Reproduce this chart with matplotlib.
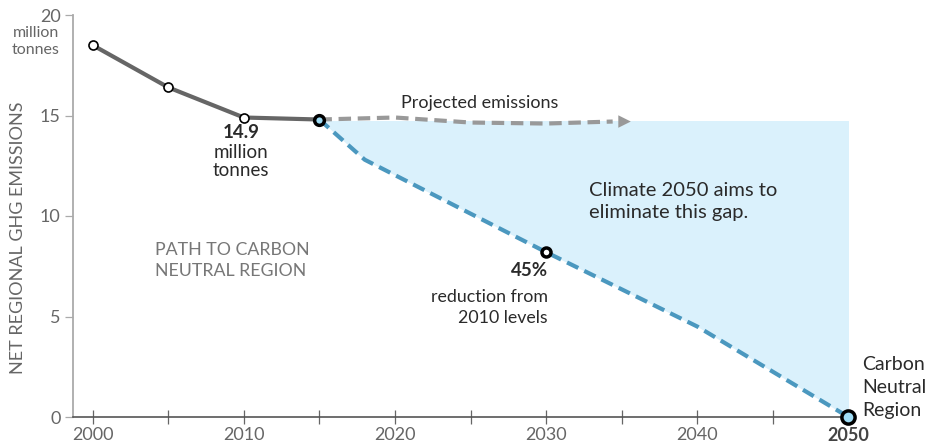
import matplotlib
matplotlib.use("Agg")
import matplotlib.pyplot as plt

plt.rcParams['font.family'] = ['Lato', 'DejaVu Sans']

# Historical emissions (million tonnes)
hist_years = [2000, 2005, 2010, 2015]
hist_vals = [18.5, 16.4, 14.9, 14.8]

# Business-as-usual projection
proj_years = [2015, 2020, 2025, 2030, 2035]
proj_vals = [14.8, 14.9, 14.65, 14.6, 14.7]

# Path to carbon neutral region
path_years = [2015, 2018, 2030, 2040, 2050]
path_vals = [14.8, 12.8, 8.2, 4.5, 0.0]

# Gap between current level and the path
gap_top = 14.75

x_ticks = [2000, 2005, 2010, 2015, 2020, 2025, 2030, 2035, 2040, 2045, 2050]
x_labels = ['2000', '', '2010', '', '2020', '', '2030', '', '2040', '', '2050']
y_ticks = [0, 5, 10, 15, 20]

fig = plt.figure(figsize=(9.3, 4.47), dpi=100)
ax = fig.add_axes([73/930, 1-417/447, (850-73)/930, (417-15)/447])
ax.set_xlim(1998.7, 2050.1)
ax.set_ylim(0, 20)

blue_fill = '#daf1fc'
blue_line = '#4b98bf'
dark = '#2a2a2a'
grey_text = '#666666'

ax.fill_between(path_years, path_vals, gap_top, color=blue_fill, lw=0, zorder=1)

ax.plot(path_years, path_vals, color=blue_line, lw=3, ls=(0, (3, 1.6)), zorder=2)
ax.plot(proj_years[:-1] + [proj_years[-1] - 0.6], proj_vals[:-1] + [proj_vals[-1]],
        color='#999999', lw=3, ls=(0, (3, 1.6)), zorder=2)
ax.annotate('', xy=(proj_years[-1] + 0.6, proj_vals[-1]),
            xytext=(proj_years[-1] - 0.5, proj_vals[-1]),
            arrowprops=dict(arrowstyle='-|>,head_length=0.9,head_width=0.45',
                            color='#999999', lw=0, shrinkA=0, shrinkB=0), zorder=3)

ax.plot(hist_years, hist_vals, color='#666666', lw=3, zorder=3)
ax.plot(hist_years[:-1], hist_vals[:-1], 'o', ms=6.5, mfc='white', mec='black',
        mew=1.2, zorder=4)
ax.plot([hist_years[-1]], [hist_vals[-1]], 'o', ms=7, mfc='#9fdcf5', mec='black',
        mew=2.5, zorder=5)
ax.plot([path_years[2]], [path_vals[2]], 'o', ms=6.5, mfc='white', mec='black',
        mew=2.5, zorder=5)
ax.plot([path_years[-1]], [path_vals[-1]], 'o', ms=9.5, mfc='#9fdcf5', mec='black',
        mew=2.5, zorder=6, clip_on=False)

# Axes styling
for s in ['top', 'right']:
    ax.spines[s].set_visible(False)
ax.spines['left'].set_color('#aaaaaa')
ax.spines['left'].set_linewidth(1.3)
ax.spines['bottom'].set_color('#555555')
ax.spines['bottom'].set_linewidth(1.2)

ax.set_xticks(x_ticks)
ax.set_xticklabels(x_labels)
ax.tick_params(axis='x', direction='inout', length=10, width=0.9, color='#666666',
               labelsize=13, labelcolor=grey_text, pad=2)
ax.get_xticklabels()[-1].set_fontweight('bold')
ax.get_xticklabels()[-1].set_color('#444444')
ax.set_yticks(y_ticks)
ax.tick_params(axis='y', direction='out', length=6, width=0.9, color='#aaaaaa',
               labelsize=13, labelcolor=grey_text, pad=3)

ax.set_ylabel('NET REGIONAL GHG EMISSIONS', fontsize=13, color=grey_text)
ax.yaxis.set_label_coords(-0.0605, 0.445)


def line(x, y, s, ha='left', size=13, weight='normal', color=dark):
    ax.text(x, y, s, ha=ha, va='center', fontsize=size, fontweight=weight,
            color=color, clip_on=False)


line(1997.8, 19.1, 'million', ha='right', size=11.5, color=grey_text)
line(1997.8, 18.25, 'tonnes', ha='right', size=11.5, color=grey_text)

line(2009.8, 14.13, '14.9', ha='center', size=13.5, weight='bold')
line(2009.8, 13.18, 'million', ha='center', size=13.5)
line(2009.8, 12.24, 'tonnes', ha='center', size=13.5)

line(2025.6, 15.62, 'Projected emissions', ha='center', size=13)

line(2032.85, 11.29, 'Climate 2050 aims to', size=14.5)
line(2032.85, 10.15, 'eliminate this gap.', size=14.5)

line(2004.1, 8.31, 'PATH TO CARBON', size=12.8, color='#777777')
line(2004.1, 7.26, 'NEUTRAL REGION', size=12.8, color='#777777')

line(2030.13, 7.31, '45%', ha='right', size=13.5, weight='bold')
line(2030.13, 5.97, 'reduction from', ha='right', size=12.8)
line(2030.13, 4.93, '2010 levels', ha='right', size=12.8)

line(2050.9, 2.62, 'Carbon', size=14)
line(2050.9, 1.45, 'Neutral', size=14)
line(2050.9, 0.33, 'Region', size=14)

fig.savefig('out.png', dpi=100)
